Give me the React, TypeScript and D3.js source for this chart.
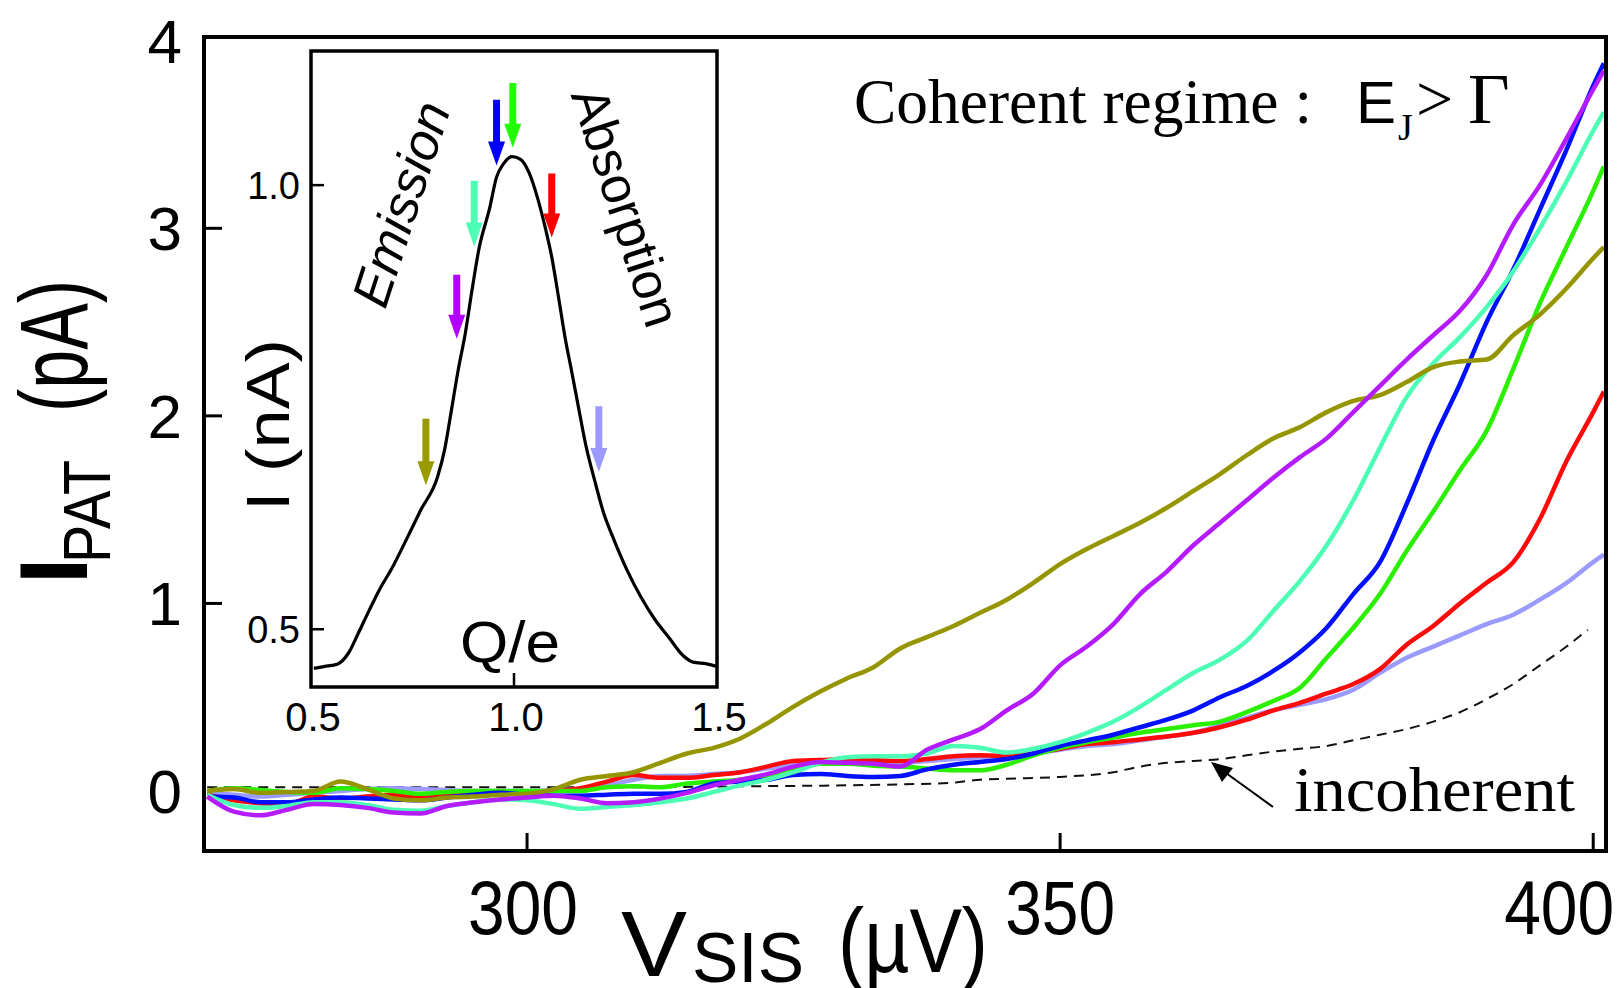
import React from 'react';
import * as d3 from 'd3';

// ---------- main chart data (V_SIS in µV, I_PAT in pA) ----------
const vSIS = [270, 272.5, 275, 277.5, 280, 282.5, 285, 287.5, 290, 292.5, 295, 297.5, 300, 302.5, 305, 307.5, 310, 312.5, 315, 317.5, 320, 322.5, 325, 327.5, 330, 332.5, 335, 337.5, 340, 342.5, 345, 347.5, 350, 352.5, 355, 357.5, 360, 362.5, 365, 367.5, 370, 372.5, 375, 377.5, 380, 382.5, 385, 387.5, 390, 392.5, 395, 397.5, 400, 401];

const iOlive = [0.00, 0.01, -0.01, -0.005, 0.00, 0.05, 0.01, -0.04, -0.05, -0.035, -0.03, -0.02, -0.015, 0.01, 0.06, 0.08, 0.10, 0.15, 0.20, 0.23, 0.28, 0.36, 0.45, 0.53, 0.60, 0.66, 0.76, 0.82, 0.88, 0.95, 1.02, 1.11, 1.21, 1.29, 1.36, 1.43, 1.51, 1.60, 1.69, 1.79, 1.88, 1.94, 2.02, 2.08, 2.11, 2.18, 2.26, 2.29, 2.30, 2.43, 2.54, 2.68, 2.84, 2.90];

const iPurple = [-0.03, -0.11, -0.13, -0.10, -0.07, -0.075, -0.09, -0.115, -0.12, -0.08, -0.06, -0.045, -0.035, -0.025, -0.04, -0.065, -0.06, -0.04, -0.01, 0.03, 0.06, 0.09, 0.13, 0.155, 0.15, 0.145, 0.13, 0.22, 0.275, 0.33, 0.43, 0.52, 0.67, 0.77, 0.89, 1.05, 1.17, 1.31, 1.43, 1.55, 1.67, 1.78, 1.88, 2.02, 2.16, 2.30, 2.43, 2.56, 2.75, 3.02, 3.23, 3.48, 3.74, 3.84];

const iAqua = [-0.02, -0.075, -0.09, -0.08, -0.06, -0.06, -0.075, -0.10, -0.105, -0.08, -0.06, -0.045, -0.05, -0.07, -0.095, -0.085, -0.075, -0.06, -0.04, -0.005, 0.03, 0.06, 0.10, 0.15, 0.18, 0.185, 0.185, 0.20, 0.24, 0.23, 0.205, 0.225, 0.26, 0.31, 0.37, 0.45, 0.54, 0.63, 0.70, 0.80, 0.96, 1.12, 1.31, 1.55, 1.83, 2.10, 2.28, 2.42, 2.58, 2.77, 3.00, 3.25, 3.52, 3.62];

const iBlue = [-0.03, -0.035, -0.06, -0.06, -0.045, -0.035, -0.04, -0.045, -0.05, -0.035, -0.02, -0.01, -0.02, -0.025, -0.025, -0.02, -0.015, -0.015, -0.005, 0.04, 0.05, 0.06, 0.085, 0.09, 0.08, 0.075, 0.08, 0.115, 0.14, 0.155, 0.17, 0.20, 0.24, 0.27, 0.30, 0.34, 0.38, 0.43, 0.50, 0.56, 0.64, 0.74, 0.87, 1.05, 1.22, 1.53, 1.87, 2.17, 2.50, 2.78, 3.10, 3.42, 3.76, 3.88];

const iGreen = [0.00, 0.015, 0.005, -0.005, -0.01, 0.015, 0.01, 0.0, -0.015, -0.005, 0.0, 0.0, 0.0, 0.0, 0.0, 0.02, 0.025, 0.02, 0.04, 0.05, 0.06, 0.08, 0.11, 0.145, 0.145, 0.135, 0.13, 0.12, 0.11, 0.11, 0.14, 0.19, 0.23, 0.26, 0.285, 0.31, 0.33, 0.35, 0.37, 0.42, 0.48, 0.55, 0.71, 0.87, 1.05, 1.28, 1.49, 1.71, 1.92, 2.25, 2.60, 2.90, 3.20, 3.33];

const iRed = [-0.02, -0.05, -0.065, -0.07, -0.03, -0.04, -0.03, -0.02, -0.03, -0.02, -0.01, 0.0, -0.005, 0.0, 0.015, 0.05, 0.085, 0.07, 0.07, 0.085, 0.10, 0.13, 0.16, 0.165, 0.17, 0.165, 0.16, 0.17, 0.185, 0.19, 0.185, 0.20, 0.225, 0.25, 0.26, 0.275, 0.29, 0.31, 0.34, 0.38, 0.43, 0.47, 0.52, 0.57, 0.65, 0.78, 0.88, 1.00, 1.11, 1.22, 1.45, 1.76, 2.02, 2.13];

const iLavender = [-0.01, -0.02, -0.03, -0.02, -0.01, 0.0, 0.01, 0.015, 0.01, 0.005, 0.0, 0.0, 0.0, 0.005, 0.01, 0.03, 0.06, 0.08, 0.08, 0.09, 0.10, 0.12, 0.14, 0.15, 0.155, 0.155, 0.15, 0.16, 0.17, 0.18, 0.19, 0.20, 0.22, 0.24, 0.25, 0.27, 0.29, 0.31, 0.35, 0.39, 0.43, 0.46, 0.49, 0.54, 0.63, 0.71, 0.77, 0.83, 0.89, 0.94, 1.02, 1.11, 1.22, 1.26];

// incoherent reference (dashed)
const vIncoherent = [270, 280, 290, 300, 310, 320, 330, 335, 340, 342.5, 345, 350, 355, 357.5, 360, 362.5, 365, 367.5, 370, 372.5, 375, 377.5, 380, 382.5, 385, 387.5, 390, 392.5, 395, 397.5, 399.5];
const iIncoherent = [0.02, 0.02, 0.02, 0.02, 0.02, 0.025, 0.03, 0.035, 0.045, 0.06, 0.065, 0.075, 0.10, 0.13, 0.15, 0.16, 0.17, 0.19, 0.21, 0.225, 0.24, 0.27, 0.30, 0.33, 0.37, 0.42, 0.49, 0.57, 0.67, 0.77, 0.86];

const xTicks = [300, 350, 400];
const yTicks = [0, 1, 2, 3, 4];

// ---------- inset data (Q/e, I in nA) ----------
const qInset = [0.507, 0.532, 0.566, 0.592, 0.617, 0.643, 0.668, 0.702, 0.736, 0.770, 0.812, 0.829, 0.846, 0.863, 0.880, 0.897, 0.914, 0.940, 0.957, 0.974, 0.995, 1.016, 1.037, 1.059, 1.076, 1.093, 1.110, 1.126, 1.143, 1.160, 1.177, 1.199, 1.220, 1.245, 1.279, 1.313, 1.347, 1.381, 1.415, 1.441, 1.475, 1.500];
const iInset = [0.456, 0.458, 0.461, 0.473, 0.496, 0.521, 0.544, 0.571, 0.602, 0.634, 0.672, 0.702, 0.747, 0.793, 0.833, 0.883, 0.929, 0.974, 1.009, 1.024, 1.032, 1.029, 1.014, 0.984, 0.954, 0.919, 0.873, 0.828, 0.788, 0.747, 0.707, 0.667, 0.632, 0.602, 0.566, 0.536, 0.511, 0.491, 0.471, 0.463, 0.461, 0.458];

const arrowQ = [0.783, 0.859, 0.902, 0.957, 0.997, 1.093, 1.209];
const arrowTop = [0.737, 0.899, 1.005, 1.096, 1.115, 1.013, 0.751];
const arrowTip = [0.662, 0.827, 0.931, 1.022, 1.042, 0.941, 0.677];
const arrowColors = ['#999900', '#b400ff', '#4dffb4', '#0000ff', '#22ff00', '#ff0000', '#9a9aff'];

const insetXTicks = [0.5, 1.0, 1.5];
const insetYTicks = [0.5, 1.0];

const SANS = '"Liberation Sans", Arial, Helvetica, sans-serif';
const SERIF = '"Liberation Serif", "Times New Roman", Times, serif';

export default function App() {
  const x = d3.scaleLinear().domain([269.7, 401.2]).range([204, 1606]);
  const y = d3.scaleLinear().domain([-0.32, 4.02]).range([851, 37]);

  const lineFor = (vs: number[]) =>
    d3.line<number>().x((_, i) => x(vs[i])).y((d) => y(d)).curve(d3.curveMonotoneX);

  const series = [
    { values: iLavender, color: '#9a9aff' },
    { values: iRed, color: '#ff0a0a' },
    { values: iGreen, color: '#2af000' },
    { values: iBlue, color: '#0010ff' },
    { values: iAqua, color: '#4dffb4' },
    { values: iOlive, color: '#959500' },
    { values: iPurple, color: '#b41cff' },
  ];

  const xi = d3.scaleLinear().domain([0.5, 1.5]).range([311, 717]);
  const yi = d3.scaleLinear().domain([0.435, 1.151]).range([687, 51]);
  const insetLine = d3.line<number>().x((_, i) => xi(qInset[i])).y((d) => yi(d)).curve(d3.curveMonotoneX);

  const xLabelShift = [-4, 0, -34];

  return (
    <svg width={1623} height={988} style={{ position: 'absolute', left: 0, top: 0, background: '#fff' }}>
      <defs>
        <clipPath id="mainClip">
          <rect x={204} y={37} width={1402} height={814} />
        </clipPath>
      </defs>
      <rect x={0} y={0} width={1623} height={988} fill="#fff" />

      {/* curves */}
      <g clipPath="url(#mainClip)">
        <path
          d={lineFor(vIncoherent)(iIncoherent) || ''}
          fill="none"
          stroke="#111"
          strokeWidth={2}
          strokeDasharray="10,7"
        />
        {series.map((s, k) => (
          <path
            key={k}
            d={lineFor(vSIS)(s.values) || ''}
            fill="none"
            stroke={s.color}
            strokeWidth={4.5}
            strokeLinejoin="round"
          />
        ))}
      </g>

      {/* main frame */}
      <rect x={204} y={37} width={1402} height={814} fill="none" stroke="#000" strokeWidth={4} />
      {yTicks.filter((t) => t > 0 && t < 4).map((t) => (
        <line key={'yt' + t} x1={204} x2={222} y1={y(t)} y2={y(t)} stroke="#000" strokeWidth={3} />
      ))}
      {xTicks.map((t) => (
        <line key={'xt' + t} x1={x(t)} x2={x(t)} y1={851} y2={833} stroke="#000" strokeWidth={3} />
      ))}
      {yTicks.map((t) => (
        <text key={'yl' + t} x={182} y={y(t) + 22} textAnchor="end" fontFamily={SANS} fontSize={62} fill="#000">
          {t}
        </text>
      ))}
      {xTicks.map((t, k) => (
        <text
          key={'xl' + t}
          x={x(t) + xLabelShift[k] - 55}
          y={934}
          fontFamily={SANS}
          fontSize={76}
          textLength={110}
          lengthAdjust="spacingAndGlyphs"
          fill="#000"
        >
          {t}
        </text>
      ))}

      {/* x axis title */}
      <text x={621} y={976} fontFamily={SANS} fontSize={92} textLength={66} lengthAdjust="spacingAndGlyphs">V</text>
      <text x={692} y={982} fontFamily={SANS} fontSize={70} textLength={112} lengthAdjust="spacingAndGlyphs">SIS</text>
      <text x={838} y={972} fontFamily={SANS} fontSize={90} textLength={150} lengthAdjust="spacingAndGlyphs">(µV)</text>

      {/* y axis title */}
      <text transform="translate(87,571) rotate(-90)" textAnchor="middle" fontFamily={SANS} fontWeight="bold" fontSize={96}>I</text>
      <text transform="translate(110,563) rotate(-90)" fontFamily={SANS} fontSize={66} textLength={103} lengthAdjust="spacingAndGlyphs">PAT</text>
      <text transform="translate(87,412) rotate(-90)" fontFamily={SANS} fontSize={96} textLength={132} lengthAdjust="spacingAndGlyphs">(pA)</text>

      {/* annotation top-right */}
      <text x={854} y={123} fontFamily={SERIF} fontSize={64} textLength={458} lengthAdjust="spacingAndGlyphs">Coherent regime :</text>
      <text x={1356} y={123} fontFamily={SANS} fontSize={60}>E</text>
      <text x={1398} y={140} fontFamily={SERIF} fontSize={38}>J</text>
      <text x={1416} y={121} fontFamily={SERIF} fontSize={66}>&gt;</text>
      <text x={1468} y={123} fontFamily={SERIF} fontSize={72}>Γ</text>

      {/* incoherent label + arrow */}
      <text x={1294} y={811} fontFamily={SERIF} fontSize={64} textLength={281} lengthAdjust="spacingAndGlyphs">incoherent</text>
      <line x1={1273} y1={807} x2={1226} y2={773} stroke="#000" strokeWidth={2} />
      <path d="M1211,762 L1233,768 L1222,782 Z" fill="#000" />

      {/* inset */}
      <rect x={311} y={51} width={406} height={636} fill="#fff" stroke="#000" strokeWidth={3.5} />
      <path d={insetLine(iInset) || ''} fill="none" stroke="#000" strokeWidth={3.2} strokeLinejoin="round" />
      {insetYTicks.map((t) => (
        <line key={'iyt' + t} x1={311} x2={324} y1={yi(t)} y2={yi(t)} stroke="#000" strokeWidth={2.5} />
      ))}
      <line x1={xi(1.0)} x2={xi(1.0)} y1={687} y2={673} stroke="#000" strokeWidth={2.5} />
      {insetYTicks.map((t) => (
        <text key={'iyl' + t} x={300} y={yi(t) + 14} textAnchor="end" fontFamily={SANS} fontSize={38}>
          {t.toFixed(1)}
        </text>
      ))}
      {insetXTicks.map((t) => (
        <text key={'ixl' + t} x={xi(t) + 2} y={731} textAnchor="middle" fontFamily={SANS} fontSize={40}>
          {t.toFixed(1)}
        </text>
      ))}
      {arrowQ.map((q, k) => {
        const cx = xi(q);
        const top = yi(arrowTop[k]);
        const tip = yi(arrowTip[k]);
        const hb = tip - 24;
        return (
          <path
            key={'ar' + k}
            d={`M${cx - 3.5},${top} L${cx + 3.5},${top} L${cx + 3.5},${hb} L${cx + 8.5},${hb} L${cx},${tip} L${cx - 8.5},${hb} L${cx - 3.5},${hb} Z`}
            fill={arrowColors[k]}
          />
        );
      })}
      <text transform="translate(289,425) rotate(-90)" textAnchor="middle" fontFamily={SANS} fontSize={62} textLength={172} lengthAdjust="spacingAndGlyphs">I (nA)</text>
      <text transform="translate(401,204) rotate(-72)" textAnchor="middle" dominantBaseline="central" fontFamily={SANS} fontStyle="italic" fontSize={52} textLength={212} lengthAdjust="spacingAndGlyphs">Emission</text>
      <text transform="translate(626,207) rotate(72)" textAnchor="middle" dominantBaseline="central" fontFamily={SANS} fontSize={52} textLength={248} lengthAdjust="spacingAndGlyphs">Absorption</text>
      <text x={510} y={662} textAnchor="middle" fontFamily={SANS} fontSize={58} textLength={100} lengthAdjust="spacingAndGlyphs">Q/e</text>
    </svg>
  );
}
